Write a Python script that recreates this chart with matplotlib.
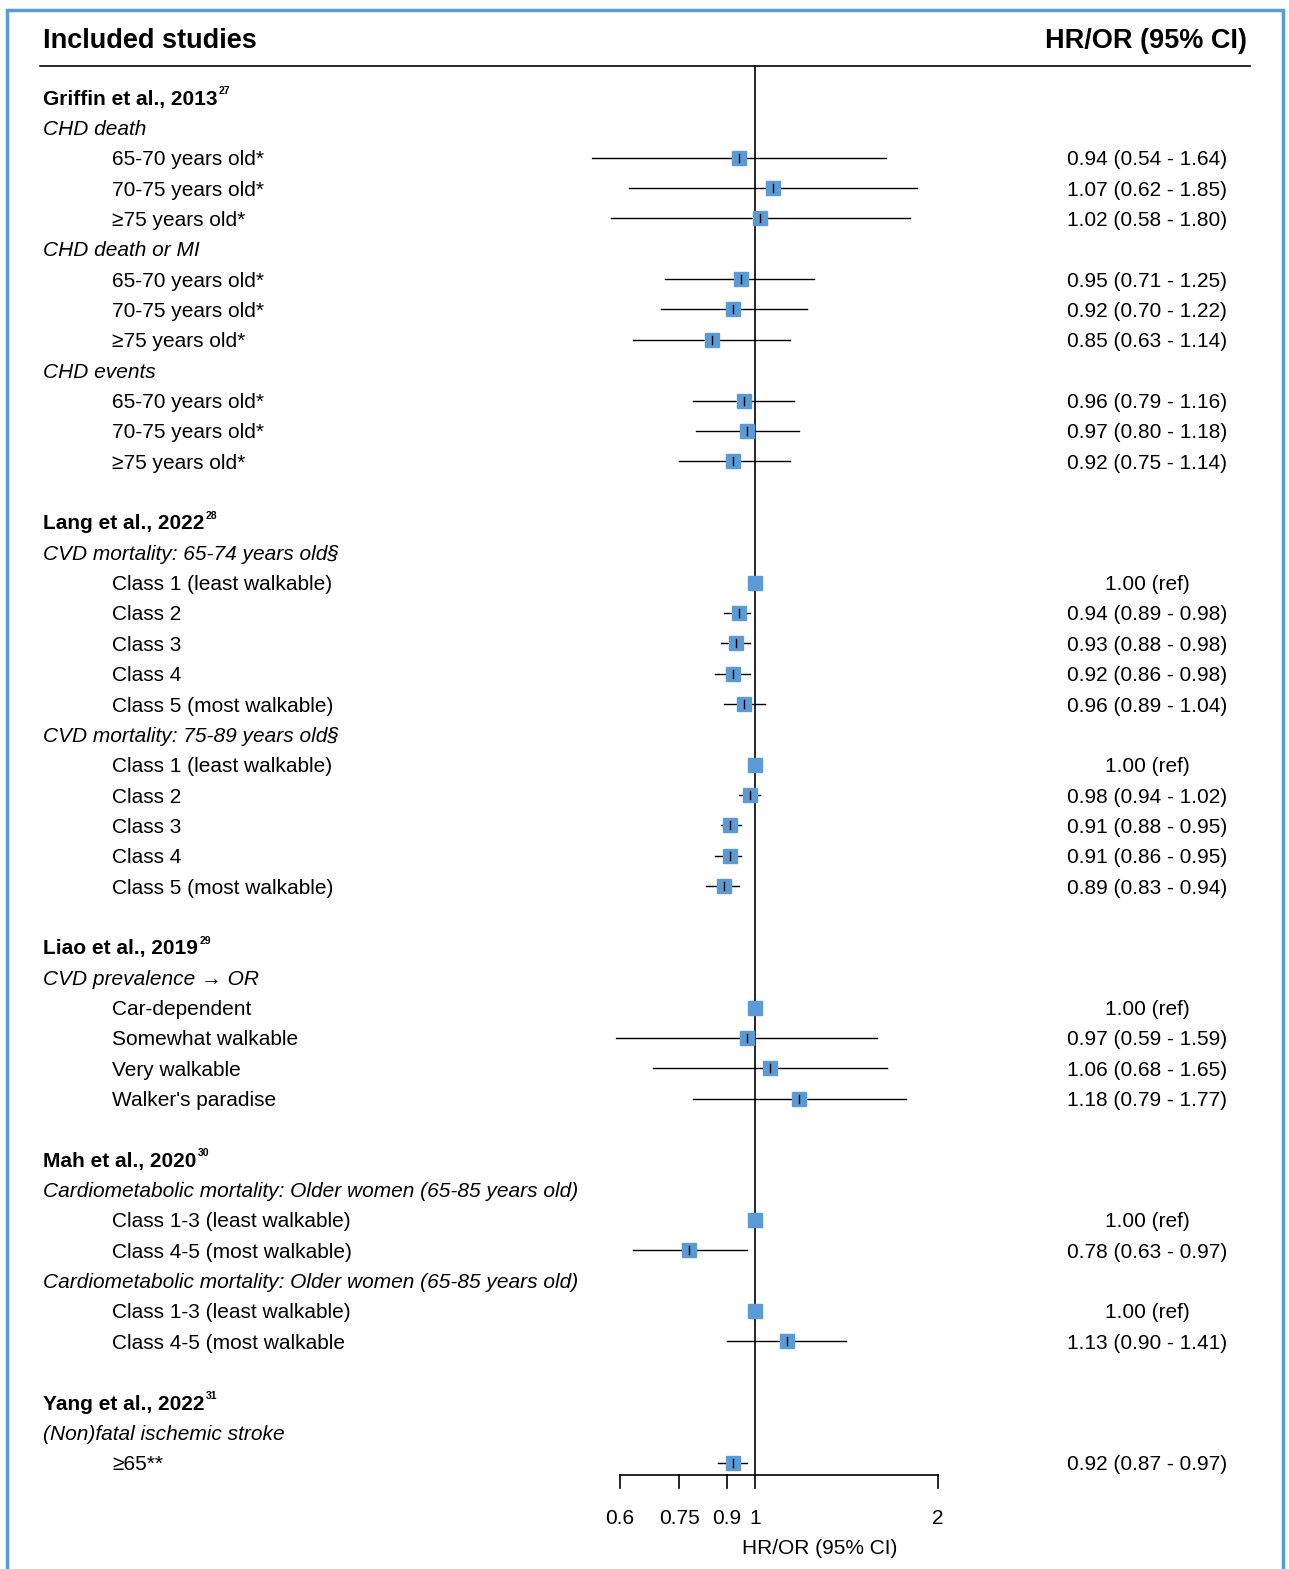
import numpy as np
import matplotlib.pyplot as plt
from matplotlib.patches import Rectangle

plt.rcParams['font.family'] = ['Liberation Sans', 'DejaVu Sans']

# (kind, label, hr, lo, hi)  kind: H=study header, S=subgroup, R=row, B=blank
rows = [
    ("H", "Griffin et al., 2013|27"),
    ("S", "CHD death"),
    ("R", "65-70 years old*", 0.94, 0.54, 1.64),
    ("R", "70-75 years old*", 1.07, 0.62, 1.85),
    ("R", "\u226575 years old*", 1.02, 0.58, 1.80),
    ("S", "CHD death or MI"),
    ("R", "65-70 years old*", 0.95, 0.71, 1.25),
    ("R", "70-75 years old*", 0.92, 0.70, 1.22),
    ("R", "\u226575 years old*", 0.85, 0.63, 1.14),
    ("S", "CHD events"),
    ("R", "65-70 years old*", 0.96, 0.79, 1.16),
    ("R", "70-75 years old*", 0.97, 0.80, 1.18),
    ("R", "\u226575 years old*", 0.92, 0.75, 1.14),
    ("B",),
    ("H", "Lang et al., 2022|28"),
    ("S", "CVD mortality: 65-74 years old\u00a7"),
    ("R", "Class 1 (least walkable)", 1.00, None, None),
    ("R", "Class 2", 0.94, 0.89, 0.98),
    ("R", "Class 3", 0.93, 0.88, 0.98),
    ("R", "Class 4", 0.92, 0.86, 0.98),
    ("R", "Class 5 (most walkable)", 0.96, 0.89, 1.04),
    ("S", "CVD mortality: 75-89 years old\u00a7"),
    ("R", "Class 1 (least walkable)", 1.00, None, None),
    ("R", "Class 2", 0.98, 0.94, 1.02),
    ("R", "Class 3", 0.91, 0.88, 0.95),
    ("R", "Class 4", 0.91, 0.86, 0.95),
    ("R", "Class 5 (most walkable)", 0.89, 0.83, 0.94),
    ("B",),
    ("H", "Liao et al., 2019|29"),
    ("S", "CVD prevalence \u2192 OR"),
    ("R", "Car-dependent", 1.00, None, None),
    ("R", "Somewhat walkable", 0.97, 0.59, 1.59),
    ("R", "Very walkable", 1.06, 0.68, 1.65),
    ("R", "Walker's paradise", 1.18, 0.79, 1.77),
    ("B",),
    ("H", "Mah et al., 2020|30"),
    ("S", "Cardiometabolic mortality: Older women (65-85 years old)"),
    ("R", "Class 1-3 (least walkable)", 1.00, None, None),
    ("R", "Class 4-5 (most walkable)", 0.78, 0.63, 0.97),
    ("S", "Cardiometabolic mortality: Older women (65-85 years old)"),
    ("R", "Class 1-3 (least walkable)", 1.00, None, None),
    ("R", "Class 4-5 (most walkable", 1.13, 0.90, 1.41),
    ("B",),
    ("H", "Yang et al., 2022|31"),
    ("S", "(Non)fatal ischemic stroke"),
    ("R", "\u226565**", 0.92, 0.87, 0.97),
]
ticks = [0.6, 0.75, 0.9, 1, 2]
tick_labels = ["0.6", "0.75", "0.9", "1", "2"]

W, H = 1289, 1569
fig = plt.figure(figsize=(W / 100, H / 100), dpi=100)
ax = fig.add_axes([0, 0, 1, 1])
ax.set_xscale("log")
ax.set_xlim(np.exp(-755 / 264), np.exp((W - 755) / 264))
ax.set_ylim(H, 0)
ax.axis("off")
tr = ax.get_yaxis_transform()  # x in axes fraction, y in data px

def px(x):
    return x / W

blue = "#5b9bd5"
fs = 15
fig.patches.append(Rectangle((7 / W, -0.01), (W - 13) / W, 1 - 10 / H + 0.01,
                             transform=fig.transFigure, fill=False,
                             edgecolor=blue, linewidth=2.5))

ax.text(px(43), 38, "Included studies", fontsize=19.5, fontweight="bold",
        va="center_baseline", transform=tr)
ax.text(px(1247), 38, "HR/OR (95% CI)", fontsize=19.5, fontweight="bold",
        va="center_baseline", ha="right", transform=tr)
ax.plot([px(40), px(1250)], [66, 66], color="black", lw=1.2, transform=tr)

y0, dy = 97, 30.35
renderer = fig.canvas.get_renderer()
for i, r in enumerate(rows):
    y = y0 + i * dy
    kind = r[0]
    if kind == "H":
        name, sup = r[1].split("|")
        t = ax.text(px(43), y, name, fontsize=15, fontweight="bold",
                    va="center_baseline", transform=tr)
        bb = t.get_window_extent(renderer)
        ax.text(bb.x1 / W + 0.001, y - 6, sup, fontsize=7.5, fontweight="bold",
                va="center", transform=tr)
    elif kind == "S":
        ax.text(px(43), y, r[1], fontsize=fs, style="italic",
                va="center_baseline", transform=tr)
    elif kind == "R":
        _, lab, hr, lo, hi = r
        ax.text(px(112), y, lab, fontsize=fs, va="center_baseline", transform=tr)
        if lo is None:
            txt = f"{hr:.2f} (ref)"
        else:
            txt = f"{hr:.2f} ({lo:.2f} - {hi:.2f})"
            ax.plot([lo, hi], [y, y], color="black", lw=1, zorder=2)
        ax.text(px(1147), y, txt, fontsize=fs, va="center_baseline",
                ha="center", transform=tr)
        ax.plot([hr], [y], marker="s", ms=9.5, color=blue, mec=blue, zorder=3)
        if lo is not None:
            ax.plot([hr, hr], [y - 4, y + 4], color="black", lw=1, zorder=4)

# reference line and axis
ax.plot([1, 1], [66, 1475], color="black", lw=1.2, zorder=1)
ax.plot([0.6, 2], [1475, 1475], color="black", lw=1.2)
for t, lab in zip(ticks, tick_labels):
    ax.plot([t, t], [1475, 1488], color="black", lw=1.2)
    ax.text(t, 1516, lab, fontsize=fs, ha="center", va="center_baseline")
ax.text(px(820), 1546, "HR/OR (95% CI)", fontsize=fs, ha="center",
        va="center_baseline", transform=tr)

fig.savefig("out.png", dpi=100)
